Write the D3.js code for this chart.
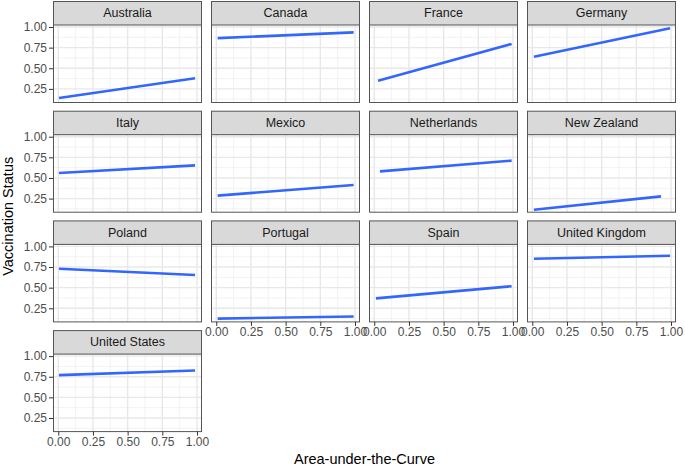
<!DOCTYPE html>
<html>
<head>
<meta charset="utf-8">
<script src="https://cdn.jsdelivr.net/npm/d3@7"></script>
<style>
  body { margin: 0; background: #fff; }
  svg { display: block; font-family: "Liberation Sans", Arial, sans-serif; }
</style>
</head>
<body>
<div id="chart"></div>
<script>
// facets, in reading order (4 per row)
var countries = ["Australia", "Canada", "France", "Germany",
                 "Italy", "Mexico", "Netherlands", "New Zealand",
                 "Poland", "Portugal", "Spain", "United Kingdom",
                 "United States"];
// fitted line end points
var xStart = [0.005, 0.01, 0.027, 0.012, 0.005, 0.01, 0.041, 0.012, 0.005, 0.01, 0.012, 0.012, 0.005];
var xEnd   = [0.986, 0.99, 0.99, 0.993, 0.986, 0.99, 0.99, 0.928, 0.986, 0.99, 0.99, 0.993, 0.986];
var yStart = [0.14, 0.865, 0.35, 0.64, 0.56, 0.286, 0.58, 0.114, 0.73, 0.125, 0.37, 0.85, 0.77];
var yEnd   = [0.38, 0.935, 0.795, 0.984, 0.653, 0.415, 0.71, 0.277, 0.653, 0.15, 0.518, 0.886, 0.825];

var xTicks = [0, 0.25, 0.5, 0.75, 1];
var yTicks = [0.25, 0.5, 0.75, 1];
var xMinor = [0.125, 0.375, 0.625, 0.875];
var yMinor = [0.125, 0.375, 0.625, 0.875];

var width = 685, height = 467;
var ncol = 4;
var padL = 53, padT = 1;
var panelW = 149, colStep = 158;
var stripH = 24, panelH = 77.5, rowStep = 109.7;

var svg = d3.select("#chart").append("svg")
    .attr("width", width)
    .attr("height", height);

var x = d3.scaleLinear().domain([-0.038, 1.036]).range([0, panelW]);
var y = d3.scaleLinear().domain([0.085, 1.0244]).range([panelH, 0]);

var fmt = d3.format(".2f");
var nrow = Math.ceil(countries.length / ncol);

countries.forEach(function(name, i) {
    var col = i % ncol, row = Math.floor(i / ncol);
    var gx = padL + col * colStep,
        gy = padT + row * rowStep;

    var g = svg.append("g").attr("transform", "translate(" + gx + "," + gy + ")");

    // strip
    g.append("rect")
        .attr("x", 0.5).attr("y", 0.5)
        .attr("width", panelW - 1).attr("height", stripH)
        .attr("fill", "#d9d9d9")
        .attr("stroke", "#555").attr("stroke-width", 1);
    g.append("text")
        .attr("x", panelW / 2).attr("y", stripH / 2 + 1)
        .attr("text-anchor", "middle")
        .attr("dominant-baseline", "middle")
        .attr("font-size", 12.5)
        .attr("fill", "#1a1a1a")
        .text(name);

    var p = g.append("g").attr("transform", "translate(0," + stripH + ")");

    p.append("rect")
        .attr("width", panelW).attr("height", panelH)
        .attr("fill", "#fff");

    // minor grid
    p.selectAll(".vminor").data(xMinor).enter().append("line")
        .attr("x1", d => x(d)).attr("x2", d => x(d))
        .attr("y1", 0).attr("y2", panelH)
        .attr("stroke", "#efefef").attr("stroke-width", 0.8);
    p.selectAll(".hminor").data(yMinor).enter().append("line")
        .attr("y1", d => y(d)).attr("y2", d => y(d))
        .attr("x1", 0).attr("x2", panelW)
        .attr("stroke", "#efefef").attr("stroke-width", 0.8);
    // major grid
    p.selectAll(".vmajor").data(xTicks).enter().append("line")
        .attr("x1", d => x(d)).attr("x2", d => x(d))
        .attr("y1", 0).attr("y2", panelH)
        .attr("stroke", "#e8e8e8").attr("stroke-width", 1.4);
    p.selectAll(".hmajor").data(yTicks).enter().append("line")
        .attr("y1", d => y(d)).attr("y2", d => y(d))
        .attr("x1", 0).attr("x2", panelW)
        .attr("stroke", "#e8e8e8").attr("stroke-width", 1.4);

    // smooth line
    p.append("line")
        .attr("x1", x(xStart[i])).attr("y1", y(yStart[i]))
        .attr("x2", x(xEnd[i])).attr("y2", y(yEnd[i]))
        .attr("stroke", "#3366ff").attr("stroke-width", 2.6);

    // border
    p.append("rect")
        .attr("x", 0.5).attr("y", 0)
        .attr("width", panelW - 1).attr("height", panelH)
        .attr("fill", "none")
        .attr("stroke", "#555").attr("stroke-width", 1);

    // y axis on first column
    if (col === 0) {
        var ya = p.append("g")
            .call(d3.axisLeft(y).tickValues(yTicks).tickFormat(fmt).tickSize(4).tickPadding(2));
        ya.select(".domain").remove();
        ya.selectAll("line").attr("stroke", "#333");
        ya.selectAll("text").attr("font-size", 12).attr("fill", "#4d4d4d")
            .attr("font-family", "Liberation Sans, Arial, sans-serif");
    }
    // x axis on the lowest panel of each column
    if (i + ncol >= countries.length) {
        var xa = p.append("g")
            .attr("transform", "translate(0," + panelH + ")")
            .call(d3.axisBottom(x).tickValues(xTicks).tickFormat(fmt).tickSize(4).tickPadding(2));
        xa.select(".domain").remove();
        xa.selectAll("line").attr("stroke", "#333");
        xa.selectAll("text").attr("font-size", 12).attr("fill", "#4d4d4d")
            .attr("font-family", "Liberation Sans, Arial, sans-serif");
    }
});

// axis titles
svg.append("text")
    .attr("x", (padL + padL + (ncol - 1) * colStep + panelW) / 2)
    .attr("y", 464)
    .attr("text-anchor", "middle")
    .attr("font-size", 14.5)
    .attr("fill", "#000")
    .text("Area-under-the-Curve");

svg.append("text")
    .attr("transform", "translate(13," + (padT + ((nrow - 1) * rowStep + stripH + panelH) / 2) + ") rotate(-90)")
    .attr("text-anchor", "middle")
    .attr("font-size", 14.5)
    .attr("fill", "#000")
    .text("Vaccination Status");
</script>
</body>
</html>
